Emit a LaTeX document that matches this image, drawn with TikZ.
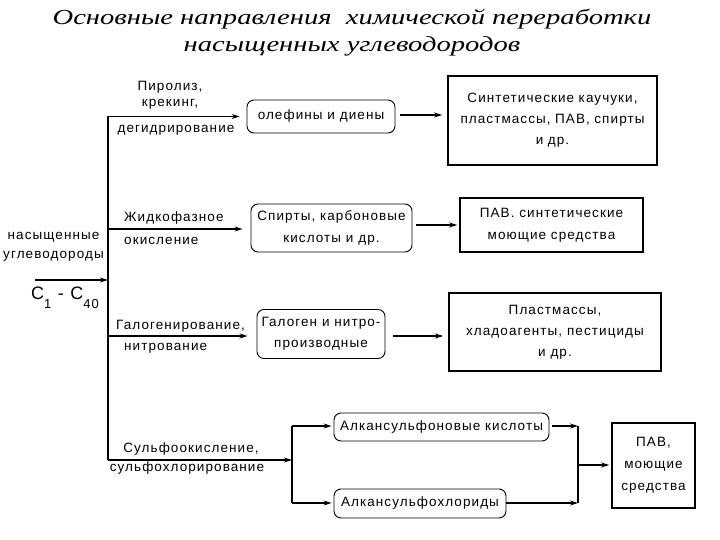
\documentclass[tikz,border=0pt]{standalone}
\usepackage{fontspec}
\setmainfont{Liberation Sans}[LetterSpace=8]
\newfontfamily\titlefont[FakeStretch=1.33]{Liberation Serif}
\usetikzlibrary{arrows.meta}
\begin{document}
\begin{tikzpicture}[x=1pt,y=-1pt,
  every node/.style={font=\fontsize{13.5}{16}\selectfont, inner sep=0pt},
  rbox/.style={draw, line width=0.9pt, rounded corners=7pt, align=center},
  sbox/.style={draw, line width=1.6pt, align=center},
  lbl/.style={align=center},
  arr/.style={line width=1.1pt, -{Stealth[length=8pt,width=5pt]}},
  ln/.style={line width=1.1pt}]
\useasboundingbox (0,0) rectangle (720,540);
% title
\node[font=\titlefont\itshape\fontsize{21.5}{27}\selectfont, align=center] (title) at (352,33)
  {Основные направления \ химической переработки\\насыщенных углеводородов};
% boxes
\node[rbox, minimum width=148pt, minimum height=33pt] (b1) at (321,116.5) {олефины и диены};
\node[sbox, minimum width=209pt, minimum height=89pt, text width=200pt] (b2) at (552.5,120.5)
  {Синтетические каучуки,\\[5pt]пластмассы, ПАВ, спирты\\[5pt]и др.};
\node[rbox, minimum width=161pt, minimum height=48pt] (b3) at (331.5,228)
  {Спирты, карбоновые\\[6pt]кислоты и др.};
\node[sbox, minimum width=183pt, minimum height=54pt] (b4) at (551.5,225)
  {ПАВ. синтетические\\[6pt]моющие средства};
\node[rbox, minimum width=128pt, minimum height=49pt] (b5) at (321,334)
  {Галоген и нитро-\\[5pt]производные};
\node[sbox, minimum width=212pt, minimum height=78pt] (b6) at (555,332)
  {Пластмассы,\\[5pt]хладоагенты, пестициды\\[5pt]и др.};
\node[rbox, minimum width=215pt, minimum height=28pt] (b7) at (441.5,427) {Алкансульфоновые кислоты};
\node[rbox, minimum width=172pt, minimum height=29pt] (b8) at (420,503.5) {Алкансульфохлориды};
\node[sbox, minimum width=83pt, minimum height=85pt] (b9) at (653.5,465.5)
  {ПАВ,\\[6pt]моющие\\[6pt]средства};
% source
\node[lbl, anchor=east] (src) at (104,247) {насыщенные\\[3pt]углеводороды};
\node[font=\fontsize{18}{20}\selectfont] (cc) at (65,298)
  {C\raisebox{-9pt}{\fontsize{13}{13}\selectfont 1}\ -\ C\raisebox{-9pt}{\fontsize{13}{13}\selectfont 40}};
% trunk
\coordinate (t1) at (108,116.5);
\coordinate (t2) at (108,229);
\coordinate (t3) at (108,336);
\coordinate (t4) at (108,460);
\coordinate (in) at (35,280);
\draw[ln, line width=1.5pt] (t1) -- (t4);
\draw[arr] (in) -- (in -| t1);
% branches
\draw[arr, shorten >=7pt] (t1) -- (t1 -| b1.west);
\draw[arr, shorten >=8pt] (t2) -- (t2 -| b3.west);
\draw[arr, line width=1.6pt, shorten >=9pt] (t3) -- (t3 -| b5.west);
\coordinate (f4) at (292,460);
\draw[arr] (t4) -- (f4);
% branch labels
\node[lbl] (l1a) at (170,95) {Пиролиз,\\крекинг,};
\node[lbl] (l1b) at (176,130) {дегидрирование};
\node[lbl, anchor=west] (l2a) at (124,218) {Жидкофазное};
\node[lbl, anchor=west] (l2b) at (124,241) {окисление};
\node[lbl, anchor=west] (l3a) at (116,326) {Галогенирование,};
\node[lbl, anchor=west] (l3b) at (124,348) {нитрование};
\node[lbl] (l4a) at (191,449) {Сульфоокисление,};
\node[lbl] (l4b) at (187,468) {сульфохлорирование};
% right arrows
\draw[arr, shorten <=5pt, shorten >=5pt] (b1.east |- 0,115) -- (b2.west |- 0,115);
\draw[arr, shorten <=4pt, shorten >=2pt] (b3.east |- 0,225) -- (b4.west |- 0,225);
\draw[arr, line width=1.6pt, shorten <=8pt, shorten >=5pt] (b5.east |- 0,336) -- (b6.west |- 0,336);
% fork
\coordinate (fa) at (292,426);
\coordinate (fb) at (292,503);
\draw[ln] (fa) -- (fb);
\draw[arr, shorten >=2pt] (fa) -- (fa -| b7.west);
\draw[arr, shorten >=2pt] (fb) -- (fb -| b8.west);
% merge
\coordinate (ma) at (578,426);
\coordinate (mb) at (578,503);
\coordinate (mc) at (578,465);
\draw[ln] (ma) -- (mb);
\draw[arr, shorten <=3pt] (b7.east |- ma) -- (ma);
\draw[arr] (b8.east |- mb) -- (mb);
\draw[arr, shorten >=2pt] (mc) -- (mc -| b9.west);
\end{tikzpicture}
\end{document}
